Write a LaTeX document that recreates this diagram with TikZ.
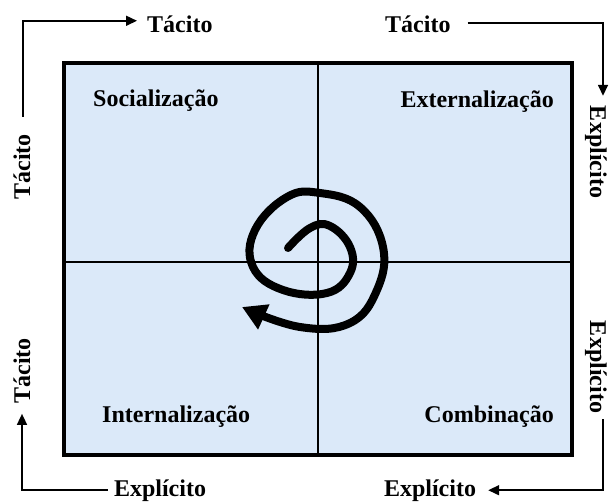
\documentclass[tikz,border=0pt]{standalone}
\usepackage{fontspec}
\setmainfont{Liberation Serif}
\usetikzlibrary{arrows.meta}
\definecolor{boxfill}{RGB}{219,233,249}
\begin{document}
\begin{tikzpicture}[x=1pt,y=-1pt,
  lbl/.style={font=\fontsize{24}{28}\selectfont\bfseries, inner sep=0pt},
  conn/.style={line width=1.6pt, -{Triangle[length=11pt,width=10pt]}},
  divider/.style={line width=2pt}]
\useasboundingbox (0,0) rectangle (609,502);
\node[draw, line width=4pt, fill=boxfill, minimum width=508pt, minimum height=392pt, inner sep=0pt] (box) at (318,259) {};
\coordinate (vt) at (318,63);
\coordinate (vb) at (318,455);
\coordinate (hl) at (64,262);
\coordinate (hr) at (572,262);
\draw[divider] (vt) -- (vb);
\draw[divider] (hl) -- (hr);
\node[lbl, anchor=base west] (soc) at (93,107) {Socialização};
\node[lbl, anchor=base east] (ext) at (554,108) {Externalização};
\node[lbl, anchor=base west] (int) at (102,422) {Internalização};
\node[lbl, anchor=base east] (comb) at (554,422) {Combinação};
\node[lbl, anchor=base west] (t1) at (147,33) {Tácito};
\node[lbl, anchor=base west] (t2) at (385,33) {Tácito};
\node[lbl, anchor=base] (b1) at (160,496) {Explícito};
\node[lbl, anchor=base] (b2) at (430,496) {Explícito};
\node[lbl, rotate=90] (l1) at (22,167) {Tácito};
\node[lbl, rotate=90] (l2) at (22,371) {Tácito};
\node[lbl, rotate=-90] (r1) at (596,152) {Explícito};
\node[lbl, rotate=-90] (r2) at (596,367) {Explícito};
\coordinate (c1) at (23,117);
\draw[conn] (c1) |- ([xshift=-10pt,yshift=4pt]t1.west);
\draw[conn] ([xshift=17pt,yshift=2pt]t2.east) -| ([xshift=7pt,yshift=10pt]r1.west);
\draw[conn] ([xshift=7pt,yshift=-6pt]r2.east) |- ([xshift=12pt]b2.east);
\draw[conn] ([xshift=-6pt]b1.west) -| ([yshift=-10pt]l2.west);
\draw[line width=8pt, line cap=round, -{Triangle[length=24pt,width=26pt]}]
  plot[smooth, tension=0.7] coordinates {(288,248) (310,228) (330,226) (350,247) (350,273) (327,293) (283,290) (253,267) (255,230) (287,197) (320,193) (360,207) (383,247) (377,290) (350,323) (300,327) (242,307)};
\end{tikzpicture}
\end{document}
